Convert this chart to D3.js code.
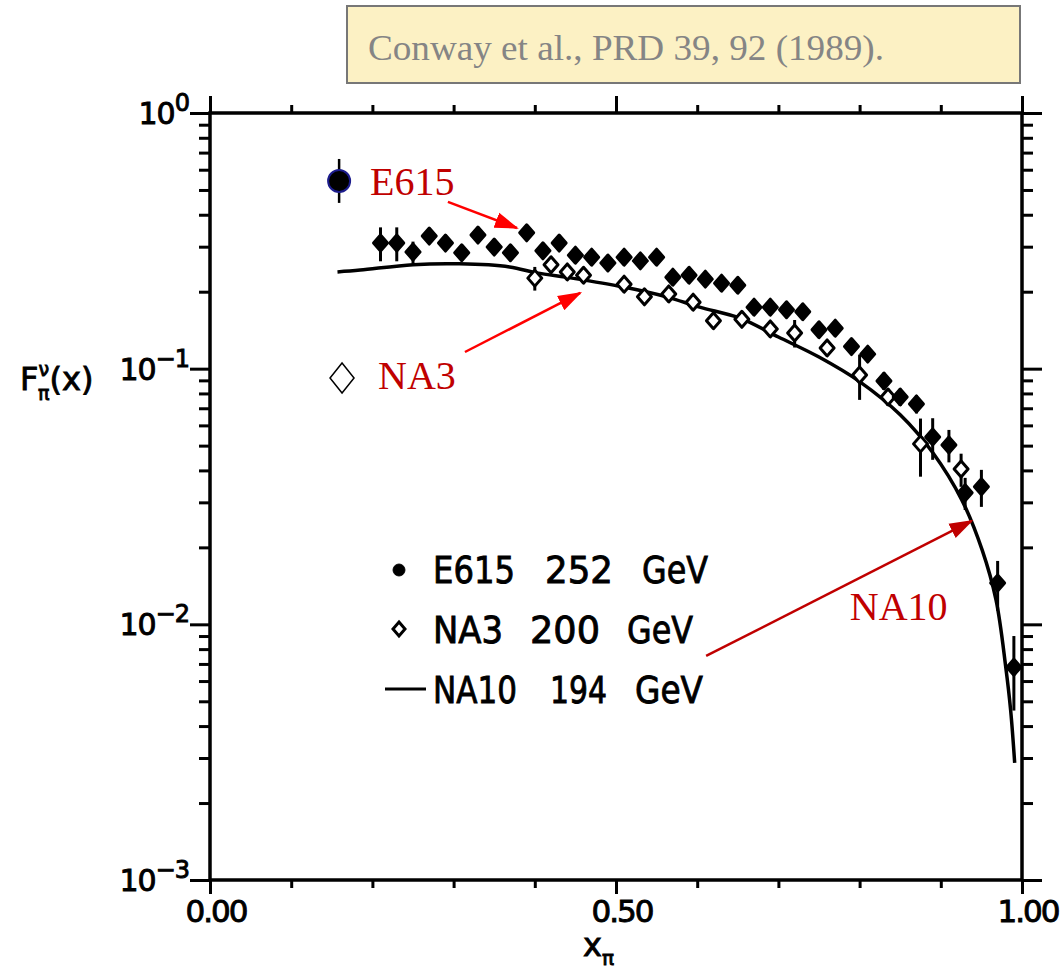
<!DOCTYPE html>
<html>
<head>
<meta charset="utf-8">
<script src="https://cdn.jsdelivr.net/npm/d3@7"></script>
<style>
  body { margin: 0; background: #fff; }
  svg { display: block; }
  .tick line { stroke: #000; stroke-width: 3; }
</style>
</head>
<body>
<svg width="1061" height="978"></svg>
<script>
'use strict';

// E615 252 GeV (filled points)
const e615X = [0.21, 0.23, 0.25, 0.27, 0.29, 0.31, 0.33, 0.35, 0.37, 0.39,
               0.41, 0.43, 0.45, 0.47, 0.49, 0.51, 0.53, 0.55, 0.57, 0.59,
               0.61, 0.63, 0.65, 0.67, 0.69, 0.71, 0.73, 0.75, 0.77, 0.79,
               0.81, 0.83, 0.85, 0.87, 0.89, 0.91, 0.93, 0.95, 0.97, 0.99];
const e615Y = [0.310, 0.310, 0.286, 0.330, 0.310, 0.284, 0.333, 0.299, 0.284, 0.340,
               0.289, 0.310, 0.278, 0.273, 0.259, 0.273, 0.264, 0.273, 0.228, 0.232,
               0.224, 0.216, 0.212, 0.174, 0.174, 0.170, 0.167, 0.142, 0.144, 0.122,
               0.114, 0.0895, 0.0775, 0.0728, 0.054, 0.0503, 0.0327, 0.0345, 0.0145, 0.0068];
const e615Err = [0.047, 0.047, 0.028, 0.02, 0.02, 0.02, 0.02, 0.02, 0.02, 0.02,
                 0.018, 0.018, 0.018, 0.018, 0.016, 0.016, 0.016, 0.016, 0.014, 0.014,
                 0.014, 0.013, 0.013, 0.011, 0.011, 0.011, 0.011, 0.009, 0.009, 0.008,
                 0.008, 0.007, 0.006, 0.006, 0.010, 0.0073, 0.0047, 0.0057, 0.0032, 0.0022];

// NA3 200 GeV (open diamonds)
const na3X = [0.40, 0.42, 0.44, 0.46, 0.51, 0.535, 0.565, 0.595, 0.62, 0.655,
              0.69, 0.72, 0.76, 0.80, 0.835, 0.875, 0.925];
const na3Y = [0.226, 0.255, 0.239, 0.232, 0.214, 0.191, 0.196, 0.182, 0.154, 0.156,
              0.143, 0.138, 0.1205, 0.0945, 0.0775, 0.0508, 0.0405];
const na3Err = [0.024, 0.012, 0.012, 0.012, 0.011, 0.010, 0.010, 0.010, 0.009, 0.009,
                0.009, 0.017, 0.008, 0.019, 0.006, 0.013, 0.006];

// NA10 194 GeV (curve)
const na10X = [0.157, 0.185, 0.25, 0.307, 0.369, 0.402, 0.446, 0.508, 0.562, 0.603,
               0.652, 0.70, 0.75, 0.80, 0.85, 0.89, 0.926, 0.951, 0.968, 0.980,
               0.986, 0.991];
const na10Y = [0.239, 0.243, 0.255, 0.257, 0.250, 0.237, 0.226, 0.209, 0.191, 0.174,
               0.158, 0.133, 0.111, 0.089, 0.066, 0.047, 0.0306, 0.0195, 0.01246, 0.0068,
               0.00462, 0.00287];

// Axis tick labels
const xTickLabels = ['0.00', '0.50', '1.00'];
const yTickLabels = [['10', '0'], ['10', '\u22121'], ['10', '\u22122'], ['10', '\u22123']];

const legendRows = [
  ['E615', '252', 'GeV'],
  ['NA3', '200', 'GeV'],
  ['NA10', '194', 'GeV'],
];

class Chart {
  left = 210;
  right = 1022;
  top = 113;
  bottom = 880;
  ink = '#000';

  constructor() {
    this.svg = d3.select('svg');
    this.x = d3.scaleLinear().domain([0, 1]).range([this.left, this.right]);
    this.y = d3.scaleLog().domain([1e-3, 1]).range([this.bottom, this.top]);

    this.drawTitle();
    this.drawFrame();
    this.drawTickLabels();
    this.drawCurve();
    this.drawNA3();
    this.drawE615();
    this.drawLegend();
    this.drawAnnotations();
  }

  /*
   * Diamond path, half width w and half height h.
   */
  diamond(w, h) {
    return `M0,${-h}L${w},0L0,${h}L${-w},0Z`;
  }

  drawTitle() {
    const g = this.svg.append('g');
    g.append('rect')
      .attr('x', 347).attr('y', 6)
      .attr('width', 673).attr('height', 77)
      .attr('fill', '#fcf1c4')
      .attr('stroke', '#777').attr('stroke-width', 2);
    g.append('text')
      .attr('x', 368).attr('y', 60)
      .attr('font-family', 'Liberation Serif')
      .attr('font-size', 35)
      .attr('fill', '#858585')
      .attr('textLength', 516)
      .attr('lengthAdjust', 'spacingAndGlyphs')
      .text('Conway et al., PRD 39, 92 (1989).');
  }

  drawFrame() {
    const self = this;
    const yMinor = [];
    for (let d = -3; d < 0; d++) {
      for (let k = 2; k <= 9; k++) yMinor.push(k * Math.pow(10, d));
    }
    const yMajor = [1e-3, 1e-2, 1e-1, 1];
    const xMinor = d3.range(1, 10).filter(i => i !== 5).map(i => i / 10);
    const xMajor = [0, 0.5, 1];

    const axes = [
      [d3.axisLeft(self.y).tickValues(yMinor).tickSize(11), `translate(${self.left},0)`],
      [d3.axisLeft(self.y).tickValues(yMajor).tickSize(20), `translate(${self.left},0)`],
      [d3.axisRight(self.y).tickValues(yMinor).tickSize(11), `translate(${self.right},0)`],
      [d3.axisRight(self.y).tickValues(yMajor).tickSize(20), `translate(${self.right},0)`],
      [d3.axisBottom(self.x).tickValues(xMinor).tickSize(8), `translate(0,${self.bottom})`],
      [d3.axisBottom(self.x).tickValues(xMajor).tickSize(14), `translate(0,${self.bottom})`],
      [d3.axisTop(self.x).tickValues(xMinor).tickSize(8), `translate(0,${self.top})`],
      [d3.axisTop(self.x).tickValues(xMajor).tickSize(17), `translate(0,${self.top})`],
    ];

    axes.forEach(([axis, tr]) => {
      const g = self.svg.append('g')
        .attr('transform', tr)
        .call(axis.tickFormat(''));
      g.select('.domain').remove();
    });

    self.svg.append('rect')
      .attr('x', self.left).attr('y', self.top)
      .attr('width', self.right - self.left)
      .attr('height', self.bottom - self.top)
      .attr('fill', 'none')
      .attr('stroke', self.ink)
      .attr('stroke-width', 3.5);
  }

  drawTickLabels() {
    const self = this;
    const font = 'DejaVu Sans';

    self.svg.append('g')
      .attr('stroke', self.ink).attr('stroke-width', 0.9)
      .selectAll('text')
      .data(xTickLabels)
      .join('text')
      .attr('x', d => self.x(+d) + 6)
      .attr('y', 922)
      .attr('text-anchor', 'middle')
      .attr('font-family', font)
      .attr('font-size', 31)
      .attr('letter-spacing', -2)
      .text(d => d);

    const yVals = [1, 1e-1, 1e-2, 1e-3];
    const lab = self.svg.append('g')
      .attr('stroke', self.ink).attr('stroke-width', 0.9)
      .selectAll('text')
      .data(yTickLabels)
      .join('text')
      .attr('x', 189)
      .attr('y', (d, i) => self.y(yVals[i]) + 11)
      .attr('text-anchor', 'end')
      .attr('font-family', font)
      .attr('font-size', 30)
      .attr('letter-spacing', -1);
    lab.append('tspan').text(d => d[0]);
    lab.append('tspan')
      .attr('dy', -13)
      .attr('font-size', 24)
      .text(d => d[1]);

    // y axis title
    const yt = self.svg.append('text')
      .attr('x', 20)
      .attr('y', 390)
      .attr('font-family', font)
      .attr('font-size', 32)
      .attr('stroke', self.ink).attr('stroke-width', 0.9);
    yt.append('tspan').text('F');
    yt.append('tspan').attr('dy', -14).attr('font-size', 19).text('\u03bd');
    yt.append('tspan').attr('dx', -11).attr('dy', 24).attr('font-size', 19).text('\u03c0');
    yt.append('tspan').attr('dy', -10).text('(x)');

    // x axis title
    const xt = self.svg.append('text')
      .attr('x', 583)
      .attr('y', 956)
      .attr('font-family', font)
      .attr('font-size', 32)
      .attr('stroke', self.ink).attr('stroke-width', 0.9);
    xt.append('tspan').text('x');
    xt.append('tspan').attr('dy', 9).attr('font-size', 20).text('\u03c0');
  }

  drawCurve() {
    const self = this;
    const pts = na10X.map((v, i) => [v, na10Y[i]]);
    const line = d3.line()
      .x(d => self.x(d[0]))
      .y(d => self.y(d[1]))
      .curve(d3.curveCatmullRom);

    self.svg.append('path')
      .datum(pts)
      .attr('d', line)
      .attr('fill', 'none')
      .attr('stroke', self.ink)
      .attr('stroke-width', 3.5);
  }

  drawErrorBars(xs, ys, errs) {
    const self = this;
    self.svg.append('g')
      .selectAll('line')
      .data(xs.map((v, i) => ({ x: v, y: ys[i], e: errs[i] })))
      .join('line')
      .attr('x1', d => self.x(d.x))
      .attr('x2', d => self.x(d.x))
      .attr('y1', d => self.y(d.y + d.e))
      .attr('y2', d => self.y(Math.max(d.y - d.e, 1e-3)))
      .attr('stroke', self.ink)
      .attr('stroke-width', 3);
  }

  drawNA3() {
    const self = this;
    self.drawErrorBars(na3X, na3Y, na3Err);
    self.svg.append('g')
      .selectAll('path')
      .data(na3X.map((v, i) => [v, na3Y[i]]))
      .join('path')
      .attr('transform', d => `translate(${self.x(d[0])},${self.y(d[1])})`)
      .attr('d', self.diamond(7, 8))
      .attr('fill', '#fff')
      .attr('stroke', self.ink)
      .attr('stroke-width', 3)
      .attr('stroke-linejoin', 'round');
  }

  drawE615() {
    const self = this;
    self.drawErrorBars(e615X, e615Y, e615Err);
    self.svg.append('g')
      .selectAll('path')
      .data(e615X.map((v, i) => [v, e615Y[i]]))
      .join('path')
      .attr('transform', d => `translate(${self.x(d[0])},${self.y(d[1])})`)
      .attr('d', self.diamond(7, 8))
      .attr('fill', self.ink)
      .attr('stroke', self.ink)
      .attr('stroke-width', 3)
      .attr('stroke-linejoin', 'round');
  }

  drawLegend() {
    const self = this;
    const g = self.svg.append('g')
      .attr('font-family', 'DejaVu Sans')
      .attr('font-size', 38)
      .attr('stroke', self.ink)
      .attr('stroke-width', 0.9);

    // piece positions: [x, width]
    const pieces = [
      [[433, 82], [545, 68], [642, 66]],
      [[433, 70], [530, 70], [627, 66]],
      [[433, 84], [550, 57], [635, 68]],
    ];
    const base = [583, 643, 703];

    legendRows.forEach((row, r) => {
      row.forEach((t, c) => {
        g.append('text')
          .attr('x', pieces[r][c][0])
          .attr('y', base[r])
          .attr('textLength', pieces[r][c][1])
          .attr('lengthAdjust', 'spacingAndGlyphs')
          .text(t);
      });
    });

    g.append('circle')
      .attr('cx', 399).attr('cy', 570).attr('r', 6)
      .attr('fill', self.ink);
    g.append('path')
      .attr('transform', 'translate(399,629)')
      .attr('d', self.diamond(6, 7))
      .attr('fill', '#fff')
      .attr('stroke-width', 3);
    g.append('line')
      .attr('x1', 385).attr('x2', 426)
      .attr('y1', 689).attr('y2', 689)
      .attr('stroke-width', 3);
  }

  /*
   * Red labels and arrows placed in data units.
   */
  drawAnnotations() {
    const self = this;
    const x = self.x, y = self.y;

    const defs = self.svg.append('defs');
    [['headBright', '#ff0000'], ['headDark', '#c00000']].forEach(([id, c]) => {
      defs.append('marker')
        .attr('id', id)
        .attr('markerUnits', 'userSpaceOnUse')
        .attr('markerWidth', 24).attr('markerHeight', 20)
        .attr('refX', 22).attr('refY', 10)
        .attr('orient', 'auto')
        .append('path')
        .attr('d', 'M0,2L24,10L0,18Z')
        .attr('fill', c);
    });

    const arrows = [
      [0.293, 0.449, 0.378, 0.355, '#ff0000', 'headBright'],
      [0.314, 0.1162, 0.456, 0.1977, '#ff0000', 'headBright'],
      [0.611, 0.00752, 0.938, 0.02537, '#c00000', 'headDark'],
    ];
    self.svg.append('g')
      .selectAll('line')
      .data(arrows)
      .join('line')
      .attr('x1', d => x(d[0])).attr('y1', d => y(d[1]))
      .attr('x2', d => x(d[2])).attr('y2', d => y(d[3]))
      .attr('stroke', d => d[4])
      .attr('stroke-width', 2.5)
      .attr('marker-end', d => `url(#${d[5]})`);

    const labels = [['E615', 0.197, 0.478], ['NA3', 0.207, 0.0833], ['NA10', 0.788, 0.0104]];
    self.svg.append('g')
      .selectAll('text')
      .data(labels)
      .join('text')
      .attr('x', d => x(d[1]))
      .attr('y', d => y(d[2]))
      .attr('font-family', 'Liberation Serif')
      .attr('font-size', 40)
      .attr('fill', '#c00000')
      .text(d => d[0]);

    // large legend-like symbols next to the red labels
    self.svg.append('line')
      .attr('x1', x(0.159)).attr('x2', x(0.159))
      .attr('y1', y(0.661)).attr('y2', y(0.445))
      .attr('stroke', self.ink).attr('stroke-width', 2.5);
    self.svg.append('circle')
      .attr('cx', x(0.159)).attr('cy', y(0.542)).attr('r', 11)
      .attr('fill', self.ink)
      .attr('stroke', '#1c1c8c').attr('stroke-width', 2);
    self.svg.append('path')
      .attr('transform', `translate(${x(0.1626)},${y(0.092)})`)
      .attr('d', self.diamond(12, 15))
      .attr('fill', '#fff')
      .attr('stroke', self.ink)
      .attr('stroke-width', 1.5);
  }
}

const chart = new Chart();
</script>
</body>
</html>
